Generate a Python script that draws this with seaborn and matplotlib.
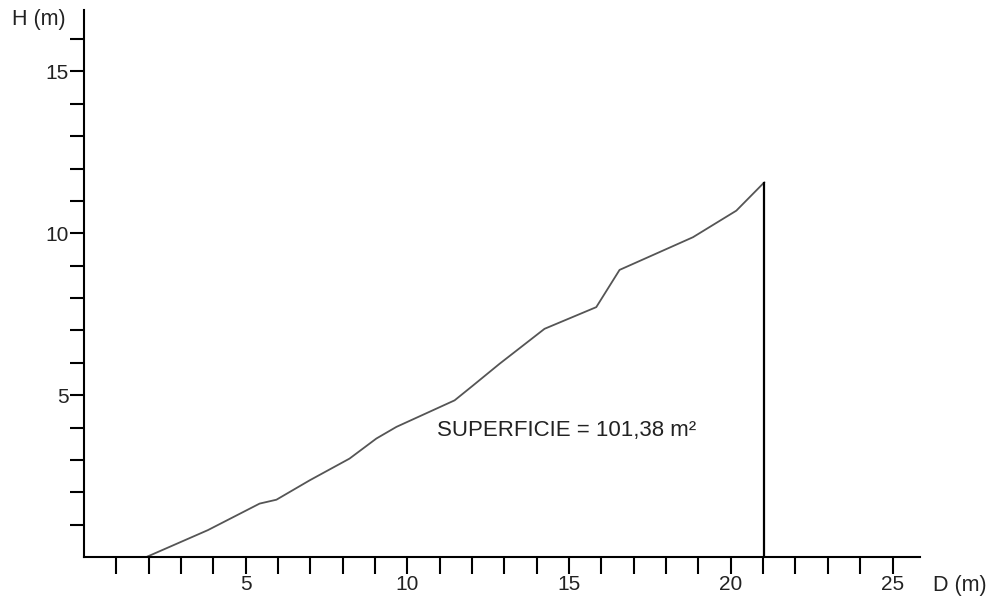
import matplotlib
matplotlib.use("Agg")
import matplotlib.pyplot as plt
import seaborn as sns
import pandas as pd
from matplotlib.ticker import FixedLocator

# Ground profile: horizontal distance D (m) and height H (m)
distance = [1.93, 3.83, 5.43, 5.95, 6.98, 8.21, 9.04, 9.66, 11.46, 12.03,
            12.85, 14.24, 15.84, 16.56, 18.83, 20.17, 21.04]
height = [0.00, 0.83, 1.65, 1.77, 2.37, 3.04, 3.66, 4.02, 4.84, 5.30,
          5.97, 7.05, 7.72, 8.87, 9.88, 10.70, 11.58]

x_labels = [5, 10, 15, 20, 25]
y_labels = [5, 10, 15]
area_text = "SUPERFICIE = 101,38 m²"

sns.set_theme(style="ticks")
plt.rcParams["font.family"] = ["Liberation Sans", "DejaVu Sans"]

df = pd.DataFrame({"D": distance, "H": height})

fig = plt.figure(figsize=(9.95, 6.01), dpi=100)
ax = fig.add_axes([84 / 995, 44 / 601, 836 / 995, 547 / 601])

sns.lineplot(data=df, x="D", y="H", sort=False, ax=ax,
             color="#555555", linewidth=1.3)

# closing vertical at the end of the profile
ax.vlines(distance[-1], 0, height[-1], color="black", linewidth=1.6)

ax.set_xlim(0, 25.85)
ax.set_ylim(0, 16.9)

for side in ("top", "right"):
    ax.spines[side].set_visible(False)
for side in ("left", "bottom"):
    ax.spines[side].set_color("black")
    ax.spines[side].set_linewidth(1.5)

ax.xaxis.set_major_locator(FixedLocator(x_labels))
ax.xaxis.set_minor_locator(FixedLocator([v for v in range(1, 26) if v not in x_labels]))
ax.yaxis.set_major_locator(FixedLocator(y_labels))
ax.yaxis.set_minor_locator(FixedLocator([v for v in range(1, 17) if v not in y_labels]))

ax.tick_params(axis="x", which="both", direction="out", length=12, width=1.5,
               color="black", labelsize=15, pad=1, labelcolor="#222222")
ax.tick_params(axis="y", which="both", direction="out", length=10, width=1.5,
               color="black", labelsize=15, pad=1, labelcolor="#222222")

ax.set_xlabel("")
ax.set_ylabel("")
ax.grid(False)

fig.text(12 / 995, 1 - 19 / 601, "H (m)", fontsize=15.5, va="center", ha="left", color="#222222")
fig.text(933 / 995, 1 - 585 / 601, "D (m)", fontsize=15.5, va="center", ha="left", color="#222222")

ax.text(10.9, 3.9, area_text, fontsize=16, va="center", ha="left", color="#222222")

fig.savefig("out.png", dpi=100, facecolor="white")
